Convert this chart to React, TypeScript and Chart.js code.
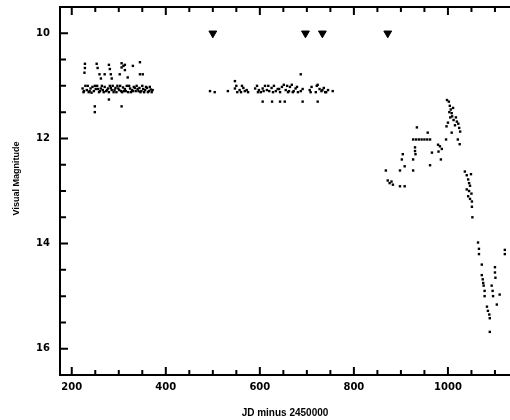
import React, { useEffect, useRef } from "react";
import { Chart, registerables } from "chart.js";

Chart.register(...registerables);

// Observations: JD minus 2450000 and visual magnitude
const obsJd: number[] = [
  // early plateau
  223, 226, 229, 232, 236, 240, 244, 247, 251, 254, 258, 262, 266, 270, 273, 277, 281, 285, 289, 293,
  297, 301, 305, 309, 313, 317, 320, 324, 328, 332, 336, 340, 344, 348, 352, 356, 360, 364, 368, 372,
  225, 234, 238, 242, 249, 256, 260, 264, 268, 275, 279, 283, 287, 291, 295, 299, 303, 307, 311, 315,
  322, 326, 330, 334, 338, 342, 346, 350, 354, 358, 362, 366, 370,
  228, 228, 227, 253, 255, 259, 262, 270, 279, 281, 283, 285, 302, 306, 306, 310, 313, 313, 319, 330,
  345, 345, 351, 249, 249, 279, 306,
  // second plateau
  494, 504, 532, 547, 552, 557, 562, 568, 575, 590, 594, 598, 602, 606, 611, 615, 620, 625, 630, 634,
  638, 643, 647, 651, 655, 660, 664, 668, 672, 676, 681, 687, 691, 706, 710, 719, 723, 727, 731, 736,
  741, 745, 755, 550, 560, 565, 572, 596, 608, 618, 628, 641, 658, 662, 670, 679, 708, 721, 733, 739,
  547, 687, 606, 626, 643, 653, 691, 723,
  // rise
  868, 872, 876, 880, 883, 898, 908, 898, 908, 902, 904, 926, 926, 930, 930, 931, 926, 932, 938, 944,
  950, 956, 962, 934, 957, 966, 962, 979, 983, 987, 980, 985, 996, 1000, 1008, 998, 1002, 1004, 1006, 1008,
  1009, 1011, 1005, 1012, 1015, 1017, 1019, 1022, 1024, 1026, 1021, 1025, 1003, 997,
  // decline
  1036, 1040, 1043, 1045, 1047, 1040, 1045, 1050, 1043, 1047, 1051, 1051, 1052, 1049,
  1064, 1066, 1066, 1121, 1121, 1072, 1072, 1074, 1075, 1076, 1078, 1078, 1100, 1100, 1101, 1093,
  1095, 1096, 1110, 1104, 1083, 1085, 1088, 1089, 1089,
];

const obsMag: number[] = [
  // early plateau
  11.05, 11.1, 11.0, 11.08, 11.12, 11.05, 11.02, 11.1, 11.06, 11.0, 11.12, 11.05, 11.08, 11.02, 11.1, 11.05, 11.0, 11.08, 11.12, 11.04,
  11.0, 11.08, 11.1, 11.03, 11.06, 11.0, 11.12, 11.05, 11.08, 11.02, 11.1, 11.06, 11.04, 11.1, 11.06, 11.08, 11.04, 11.1, 11.07, 11.08,
  11.12, 11.0, 11.1, 11.13, 11.0, 11.06, 11.1, 11.0, 11.12, 11.08, 11.12, 11.04, 11.0, 11.08, 11.12, 11.05, 11.0, 11.12, 11.1, 11.1,
  11.0, 11.12, 11.1, 11.04, 11.0, 11.1, 11.12, 11.0, 11.12, 11.02, 11.12, 11.02, 11.12,
  10.58, 10.66, 10.75, 10.58, 10.66, 10.78, 10.86, 10.78, 10.6, 10.68, 10.78, 10.86, 10.78, 10.57, 10.65, 10.62, 10.6, 10.7, 10.84, 10.62,
  10.55, 10.78, 10.78, 11.39, 11.5, 11.26, 11.39,
  // second plateau
  11.1, 11.12, 11.1, 11.05, 11.12, 11.08, 11.0, 11.1, 11.12, 11.05, 11.0, 11.08, 11.12, 11.05, 11.0, 11.08, 11.1, 11.04, 11.0, 11.1,
  11.06, 11.12, 11.02, 10.98, 11.08, 11.12, 11.02, 10.98, 11.1, 11.05, 11.12, 11.1, 11.06, 11.08, 11.02, 11.12, 10.98, 11.06, 11.1, 11.04,
  11.12, 11.08, 11.1, 11.0, 11.12, 11.04, 11.08, 11.12, 11.1, 11.0, 11.12, 11.06, 11.0, 11.1, 11.12, 11.02, 11.12, 11.0, 11.08, 11.12,
  10.91, 10.78, 11.3, 11.3, 11.3, 11.3, 11.3, 11.3,
  // rise
  12.61, 12.8, 12.85, 12.82, 12.88, 12.91, 12.91, 12.61, 12.53, 12.4, 12.3, 12.61, 12.4, 12.17, 12.24, 12.3, 12.02, 12.02, 12.02, 12.02,
  12.02, 12.02, 12.02, 11.79, 11.89, 12.27, 12.51, 12.12, 12.15, 12.2, 12.25, 12.4, 12.02, 11.7, 11.89, 11.27, 11.3, 11.38, 11.45, 11.52,
  11.58, 11.42, 11.6, 11.65, 11.75, 11.6, 11.68, 11.72, 11.8, 11.87, 12.02, 12.11, 11.5, 11.77,
  // decline
  12.63, 12.7, 12.78, 12.85, 12.9, 12.97, 13.0, 13.05, 13.1, 13.15, 13.2, 13.3, 13.5, 12.68,
  13.98, 14.1, 14.2, 14.12, 14.2, 14.4, 14.6, 14.68, 14.75, 14.8, 14.9, 15.0, 14.45, 14.55, 14.65, 14.8,
  14.9, 15.0, 14.97, 15.16, 15.2, 15.28, 15.35, 15.42, 15.68,
];

// Fainter-than limits
const limitJd: number[] = [500, 697, 733, 872];
const limitMag: number[] = [10, 10, 10, 10];

const xTickValues: number[] = [200, 400, 600, 800, 1000];
const yTickValues: number[] = [10, 12, 14, 16];

const framePlugin = {
  id: "frame",
  afterDraw(chart: any) {
    const { ctx, chartArea, scales } = chart;
    const { left, right, top, bottom } = chartArea;
    const x = scales.x;
    const y = scales.y;
    ctx.save();
    ctx.strokeStyle = "#000";
    ctx.lineWidth = 2;
    ctx.beginPath();
    ctx.moveTo(right, top);
    ctx.lineTo(left, top);
    ctx.lineTo(left, bottom);
    ctx.lineTo(right, bottom);
    ctx.stroke();
    ctx.beginPath();
    for (let v = Math.ceil(x.min / 50) * 50; v <= x.max; v += 50) {
      const px = x.getPixelForValue(v);
      const len = v % 200 === 0 ? 8 : 5;
      ctx.moveTo(px, bottom);
      ctx.lineTo(px, bottom - len);
      ctx.moveTo(px, top);
      ctx.lineTo(px, top + len);
    }
    for (let v = 10; v <= y.max; v += 0.5) {
      const py = y.getPixelForValue(v);
      const len = v % 2 === 0 ? 8 : 6;
      ctx.moveTo(left, py);
      ctx.lineTo(left + len, py);
    }
    ctx.stroke();
    ctx.restore();
  },
};

export default function App() {
  const ref = useRef<HTMLCanvasElement | null>(null);

  useEffect(() => {
    if (!ref.current) return;
    const obs = obsJd.map((v, i) => ({ x: v, y: obsMag[i] }));
    const lim = limitJd.map((v, i) => ({ x: v, y: limitMag[i] }));
    const chart = new Chart(ref.current, {
      type: "scatter",
      data: {
        datasets: [
          {
            data: obs,
            pointStyle: "rect",
            pointRadius: 1.7,
            backgroundColor: "#000",
            borderColor: "#000",
            borderWidth: 0,
          },
          {
            data: lim,
            pointStyle: "triangle",
            rotation: 180,
            pointRadius: 4.5,
            backgroundColor: "#000",
            borderColor: "#000",
            borderWidth: 1,
          },
        ],
      },
      options: {
        animation: false,
        responsive: false,
        layout: { autoPadding: false, padding: { top: 7, left: 0, right: 0, bottom: 0 } },
        plugins: { legend: { display: false }, tooltip: { enabled: false } },
        scales: {
          x: {
            type: "linear",
            min: 175,
            max: 1132,
            grid: { display: false, drawTicks: false },
            border: { display: false },
            afterBuildTicks: (s: any) => {
              s.ticks = xTickValues.map((v) => ({ value: v }));
            },
            afterFit: (s: any) => {
              s.height = 45;
              s.paddingLeft = 0;
              s.paddingRight = 0;
            },
            ticks: {
              padding: 6,
              color: "#000",
              maxRotation: 0,
              callback: (v: any) => String(v),
              font: { family: "DejaVu Sans", size: 10, weight: "bold" },
            },
            title: {
              display: true,
              text: "JD minus 2450000",
              color: "#000",
              padding: { top: 0, bottom: 1 },
              font: { family: "Liberation Sans", size: 10, weight: "bold" },
            },
          },
          y: {
            type: "linear",
            reverse: true,
            min: 9.5,
            max: 16.5,
            grid: { display: false, drawTicks: false },
            border: { display: false },
            afterBuildTicks: (s: any) => {
              s.ticks = yTickValues.map((v) => ({ value: v }));
            },
            afterFit: (s: any) => {
              s.width = 60;
              s.paddingTop = 0;
              s.paddingBottom = 0;
            },
            ticks: {
              padding: 10,
              color: "#000",
              callback: (v: any) => String(v),
              font: { family: "DejaVu Sans", size: 10, weight: "bold" },
            },
            title: {
              display: true,
              text: "\u00A0\u00A0\u00A0\u00A0\u00A0\u00A0\u00A0\u00A0\u00A0\u00A0Visual Magnitude",
              color: "#000",
              padding: { top: 11, bottom: 0 },
              font: { family: "Liberation Sans", size: 9, weight: "bold" },
            },
          },
        },
      },
      plugins: [framePlugin],
    });
    return () => chart.destroy();
  }, []);

  return (
    <div style={{ position: "fixed", left: 0, top: 0, width: 510, height: 420, background: "#fff" }}>
      <canvas ref={ref} width={510} height={420} />
    </div>
  );
}
